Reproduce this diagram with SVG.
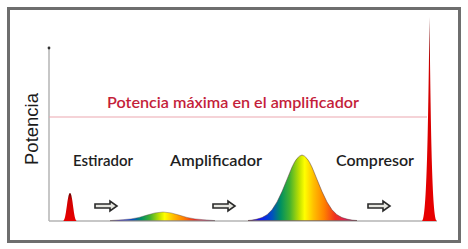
<svg xmlns="http://www.w3.org/2000/svg" width="468" height="249" viewBox="0 0 468 249">
<defs>
<style>
.lbl{font-family:Lato,"Open Sans","Liberation Sans",sans-serif;font-size:15.5px;font-weight:600;fill:#1e1e1e}
.title{font-family:Lato,"Open Sans","Liberation Sans",sans-serif;font-size:15.5px;font-weight:600;fill:#c41e3a}
.axis{stroke:#b4b4b4;stroke-width:1.5;fill:none}
.arrow{fill:#e6e6e0;stroke:#2a2a2a;stroke-width:1.6;stroke-linejoin:miter}
</style>
<linearGradient id="spec" gradientUnits="objectBoundingBox" x1="0" y1="0" x2="1" y2="0">
<stop offset="0" stop-color="#4020a0"/>
<stop offset="0.1" stop-color="#1010ff"/>
<stop offset="0.22" stop-color="#0050c0"/>
<stop offset="0.3" stop-color="#009060"/>
<stop offset="0.38" stop-color="#40b030"/>
<stop offset="0.47" stop-color="#c0e000"/>
<stop offset="0.52" stop-color="#ffff00"/>
<stop offset="0.6" stop-color="#ffc000"/>
<stop offset="0.7" stop-color="#ff8000"/>
<stop offset="0.8" stop-color="#f03020"/>
<stop offset="0.9" stop-color="#e0205a"/>
<stop offset="1" stop-color="#a03080"/>
</linearGradient>
<linearGradient id="redv" x1="0" y1="0" x2="0" y2="1">
<stop offset="0" stop-color="#600000"/>
<stop offset="0.25" stop-color="#d00000"/>
<stop offset="1" stop-color="#e80000"/>
</linearGradient>
</defs>
<rect x="0" y="0" width="468" height="249" fill="#ffffff"/>
<rect x="8.5" y="8.5" width="451" height="233" fill="#ffffff" stroke="#6e6e6e" stroke-width="3"/>
<g id="axes">
<line class="axis" x1="49" y1="48" x2="49" y2="221"/>
<line class="axis" x1="49" y1="221" x2="437" y2="221"/>
<circle cx="49" cy="48" r="1.4" fill="#333"/>
<line x1="49" y1="117" x2="427" y2="117" stroke="#eba7b0" stroke-width="1.2"/>
</g>
<text class="title" x="107" y="108" textLength="252" lengthAdjust="spacingAndGlyphs">Potencia máxima en el amplificador</text>
<text transform="translate(38,165) rotate(-90)" font-family="'Liberation Sans',Arial,sans-serif" font-size="18.5" fill="#1a1a1a">Potencia</text>
<g id="estirador"><text class="lbl" x="73" y="166" textLength="60" lengthAdjust="spacingAndGlyphs">Estirador</text></g>
<g id="amplificador"><text class="lbl" x="170" y="166" textLength="92" lengthAdjust="spacingAndGlyphs">Amplificador</text></g>
<g id="compresor"><text class="lbl" x="336" y="166" textLength="78" lengthAdjust="spacingAndGlyphs">Compresor</text></g>
<g id="pulse1">
<path d="M63,221 C66.5,221 67.2,193 70,193 C72.8,193 73.5,221 77,221 Z" fill="url(#redv)"/>
</g>
<g id="pulse2">
<path d="M110,220.6 L123,219.65 L131,218.9 L139,217.4 L147,215.1 L155,212.9 L163,212 L171,212.9 L179,215.1 L187,217.4 L195,218.9 L203,219.65 L215,220.6 Z" fill="url(#spec)" stroke="#5a4a4a" stroke-width="0.4"/>
</g>
<g id="pulse3">
<path d="M248,220.5 L252,220.1 L257,219.1 L262,217.6 L267,214.8 L272,209.8 L277,202 L282,191.6 L287,179.4 L292,167.2 Q297,156 302,155 Q307,156 312,167.2 L317,179.4 L322,191.6 L327,202 L332,209.8 L337,214.8 L342,217.6 L347,219.1 L352,220.1 L357,220.5 Z" fill="url(#spec)" stroke="#5a3a3a" stroke-width="0.5"/>
</g>
<g id="pulse4">
<path d="M422,221 C427,221 428.3,120 429.5,17 C430.7,120 432,221 437,221 Z" fill="url(#redv)"/>
</g>
<g id="connectors">
<path class="arrow" d="M95,204 L110,204 L110,201 L117,206 L110,211 L110,208 L95,208 Z"/>
<path class="arrow" d="M213,204 L228,204 L228,201 L235,206 L228,211 L228,208 L213,208 Z"/>
<path class="arrow" d="M368,204 L383,204 L383,201 L390,206 L383,211 L383,208 L368,208 Z"/>
</g>
</svg>
